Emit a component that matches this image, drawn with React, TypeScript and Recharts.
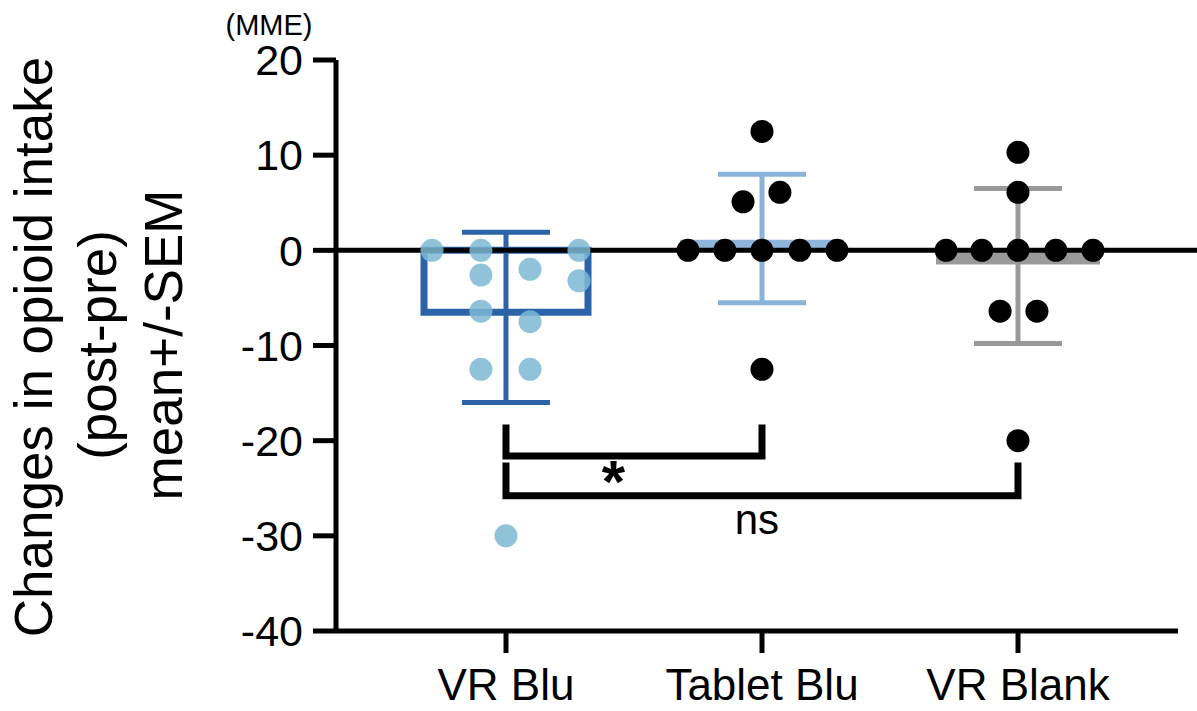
import React from 'react';
import {
  ComposedChart,
  Bar,
  Cell,
  XAxis,
  YAxis,
  Scatter,
  ErrorBar,
  ReferenceLine,
  Customized,
} from 'recharts';

// ---------- data ----------
const categories = ['VR Blu', 'Tablet Blu', 'VR Blank'];
const categoryPos = [1, 2, 3];
const means = [-6.5, 1.1, -1.5];
const errUpper = [1.9, 8.0, 6.5];
const errLower = [-16.0, -5.5, -9.8];
const yTicks = [20, 10, 0, -10, -20, -30, -40];

const vrBluX = [0.711, 0.902, 1.285, 0.902, 1.094, 1.285, 0.902, 1.094, 0.902, 1.094, 1.0];
const vrBluY = [0, 0, 0, -2.6, -2.0, -3.2, -6.4, -7.5, -12.5, -12.5, -30];
const tabletX = [2.0, 1.926, 2.07, 1.711, 1.855, 2.0, 2.148, 2.293, 2.0];
const tabletY = [12.5, 5.1, 6.1, 0, 0, 0, 0, 0, -12.5];
const blankX = [3.0, 3.0, 2.719, 2.859, 3.0, 3.148, 3.293, 2.93, 3.074, 3.0];
const blankY = [10.3, 6.1, 0, 0, 0, 0, 0, -6.4, -6.4, -20];

const bracket1X = [1, 1, 2, 2];
const bracket1Y = [-18.3, -21.6, -21.6, -18.3];
const bracket2X = [1, 1, 3, 3];
const bracket2Y = [-22.3, -25.8, -25.8, -22.3];

const starLabel = ['*'];
const starX = [1.42];
const starY = [-26.4];
const nsLabel = ['ns'];
const nsX = [1.98];
const nsY = [-29.8];

const yLabelLines = ['Changes in opioid intake', '(post-pre)', 'mean+/-SEM'];
const unitLabel = '(MME)';

// ---------- styles ----------
const FONT = '"Liberation Sans", Arial, Helvetica, sans-serif';
const barColors = ['#ffffff', '#8FB5DB', '#9A9A9A'];
const barStroke = ['#2C63A8', 'none', 'none'];
const errColors = ['#2C63A8', '#8BB2D8', '#999999'];
const dotLight = '#7DB9D3';

const barData = categories.map((name, i) => ({ name, y: means[i] }));
const errData = categories.map((name, i) => [
  {
    x: categoryPos[i],
    y: means[i],
    err: [means[i] - errLower[i], errUpper[i] - means[i]],
  },
]);
const zip = (xs: number[], ys: number[]) => xs.map((x, i) => ({ x, y: ys[i] }));
const vrBluDots = zip(vrBluX, vrBluY);
const tabletDots = zip(tabletX, tabletY);
const blankDots = zip(blankX, blankY);
const bracket1 = zip(bracket1X, bracket1Y);
const bracket2 = zip(bracket2X, bracket2Y);
const starData = starLabel.map((label, i) => ({ x: starX[i], y: starY[i], label }));
const nsData = nsLabel.map((label, i) => ({ x: nsX[i], y: nsY[i], label }));

const Empty = () => <g />;

const lightDot = (p: any) => (
  <circle cx={p.cx} cy={p.cy} r={11.5} fill={dotLight} fillOpacity={0.85} />
);
const blackDot = (p: any) => <circle cx={p.cx} cy={p.cy} r={11.5} fill="#000" />;

const starShape = (p: any) => (
  <text
    x={p.cx}
    y={p.cy}
    textAnchor="middle"
    fontFamily={FONT}
    fontWeight="bold"
    fontSize={60}
    fill="#000"
  >
    {p.payload.label}
  </text>
);
const nsShape = (p: any) => (
  <text x={p.cx} y={p.cy} textAnchor="middle" fontFamily={FONT} fontSize={42} fill="#000">
    {p.payload.label}
  </text>
);

const AxisTitles = () => (
  <g fontFamily={FONT} fill="#000">
    <text transform="translate(52,347) rotate(-90)" textAnchor="middle" fontSize={53}>
      {yLabelLines[0]}
    </text>
    <text transform="translate(116,345) rotate(-90)" textAnchor="middle" fontSize={53}>
      {yLabelLines[1]}
    </text>
    <text transform="translate(182,345) rotate(-90)" textAnchor="middle" fontSize={53}>
      {yLabelLines[2]}
    </text>
    <text x={269} y={35} textAnchor="middle" fontSize={29}>
      {unitLabel}
    </text>
  </g>
);

export default function App() {
  return (
    <div style={{ position: 'absolute', left: 0, top: 0, width: 1197, height: 711, background: '#fff' }}>
      <ComposedChart
        width={1197}
        height={711}
        data={barData}
        margin={{ top: 60, right: 19, bottom: 0, left: 0 }}
      >
        <XAxis
          xAxisId="cat"
          dataKey="name"
          type="category"
          padding={{ left: 42, right: 32 }}
          height={80}
          axisLine={{ stroke: '#000', strokeWidth: 5 }}
          tickLine={{ stroke: '#000', strokeWidth: 5 }}
          tickSize={22}
          tickMargin={16}
          tick={{ fontSize: 44, fill: '#000', fontFamily: FONT }}
          interval={0}
        />
        <XAxis
          xAxisId="num"
          type="number"
          dataKey="x"
          domain={[0.336, 3.625]}
          allowDataOverflow
          hide
          height={80}
        />
        <YAxis
          type="number"
          dataKey="y"
          domain={[-40, 20]}
          ticks={yTicks}
          width={336}
          allowDataOverflow
          axisLine={{ stroke: '#000', strokeWidth: 5 }}
          tickLine={{ stroke: '#000', strokeWidth: 5 }}
          tickSize={23}
          tickMargin={10}
          tick={{ fontSize: 43, fill: '#000', fontFamily: FONT }}
          interval={0}
        />
        <Bar xAxisId="cat" dataKey="y" barSize={164} isAnimationActive={false}>
          {barData.map((d, i) => (
            <Cell key={d.name} fill={barColors[i]} stroke={barStroke[i]} strokeWidth={7} />
          ))}
        </Bar>
        {errData.map((d, i) => (
          <Scatter
            key={'err' + i}
            xAxisId="num"
            data={d}
            dataKey="y"
            shape={Empty}
            isAnimationActive={false}
          >
            <ErrorBar
              dataKey="err"
              direction="y"
              width={44}
              stroke={errColors[i]}
              strokeWidth={5}
              isAnimationActive={false}
            />
          </Scatter>
        ))}
        <Scatter xAxisId="num" data={vrBluDots} dataKey="y" shape={lightDot} isAnimationActive={false} />
        <ReferenceLine
          xAxisId="num"
          segment={[
            { x: 0.336, y: 0 },
            { x: 3.7, y: 0 },
          ]}
          ifOverflow="visible"
          stroke="#000"
          strokeWidth={5}
        />
        <Scatter xAxisId="num" data={tabletDots} dataKey="y" shape={blackDot} isAnimationActive={false} />
        <Scatter xAxisId="num" data={blankDots} dataKey="y" shape={blackDot} isAnimationActive={false} />
        <Scatter
          xAxisId="num"
          data={bracket1}
          dataKey="y"
          shape={Empty}
          line={{ stroke: '#000', strokeWidth: 7 }}
          isAnimationActive={false}
        />
        <Scatter
          xAxisId="num"
          data={bracket2}
          dataKey="y"
          shape={Empty}
          line={{ stroke: '#000', strokeWidth: 7 }}
          isAnimationActive={false}
        />
        <Scatter xAxisId="num" data={starData} dataKey="y" shape={starShape} isAnimationActive={false} />
        <Scatter xAxisId="num" data={nsData} dataKey="y" shape={nsShape} isAnimationActive={false} />
        <Customized component={AxisTitles} />
      </ComposedChart>
    </div>
  );
}
